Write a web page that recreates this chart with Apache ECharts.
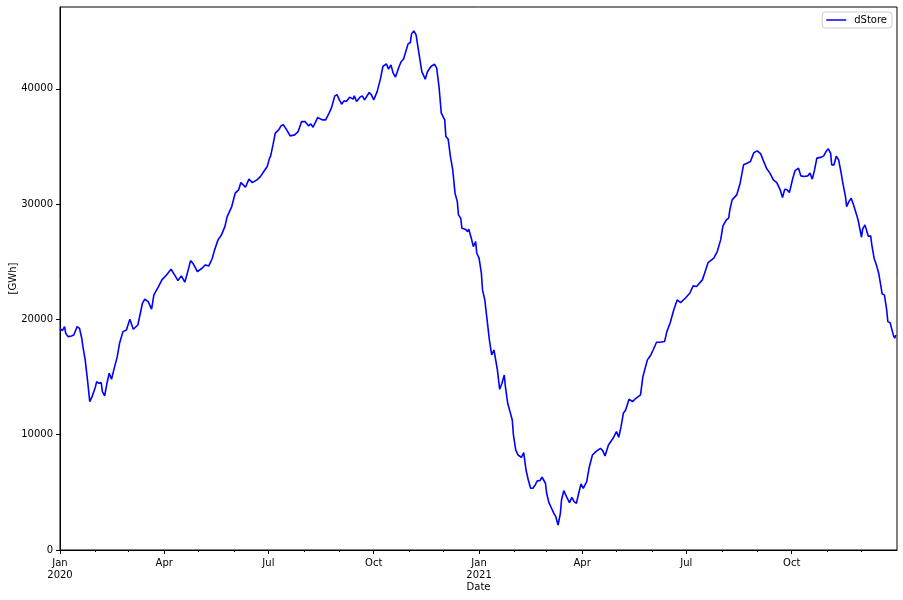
<!DOCTYPE html>
<html>
<head>
<meta charset="utf-8">
<script src="https://cdn.jsdelivr.net/npm/echarts@6/dist/echarts.min.js"></script>
<style>
html,body{margin:0;padding:0;background:#fff;}
#c{width:903px;height:600px;}
</style>
</head>
<body>
<div id="c"></div>
<script>
const seriesName = 'dStore';
const dates2020 = ['2020-01-01','2020-01-03','2020-01-05','2020-01-06','2020-01-08','2020-01-11','2020-01-13','2020-01-16','2020-01-18','2020-01-20','2020-01-21','2020-01-23','2020-01-25','2020-01-27','2020-01-29','2020-02-01','2020-02-02','2020-02-04','2020-02-06','2020-02-07','2020-02-09','2020-02-11','2020-02-13','2020-02-15','2020-02-17','2020-02-20','2020-02-22','2020-02-25','2020-02-28','2020-03-02','2020-03-05','2020-03-09','2020-03-13','2020-03-15','2020-03-18','2020-03-21','2020-03-23','2020-03-27','2020-03-30','2020-04-03','2020-04-07','2020-04-11','2020-04-13','2020-04-16','2020-04-19','2020-04-22','2020-04-24','2020-04-26','2020-04-30','2020-05-04','2020-05-07','2020-05-10','2020-05-13','2020-05-15','2020-05-18','2020-05-21','2020-05-24','2020-05-26','2020-05-30','2020-06-02','2020-06-05','2020-06-07','2020-06-09','2020-06-11','2020-06-14','2020-06-17','2020-06-21','2020-06-24','2020-06-27','2020-06-30','2020-07-02','2020-07-03','2020-07-05','2020-07-07','2020-07-10','2020-07-12','2020-07-14','2020-07-17','2020-07-20','2020-07-24','2020-07-27','2020-07-30','2020-08-02','2020-08-05','2020-08-07','2020-08-09','2020-08-13','2020-08-17','2020-08-20','2020-08-23','2020-08-25','2020-08-28','2020-08-30','2020-09-01','2020-09-03','2020-09-05','2020-09-07','2020-09-10','2020-09-13','2020-09-14','2020-09-16','2020-09-19','2020-09-21','2020-09-23','2020-09-27','2020-09-29','2020-10-01','2020-10-04','2020-10-07','2020-10-09','2020-10-12','2020-10-14','2020-10-16','2020-10-18','2020-10-20','2020-10-23','2020-10-25','2020-10-27','2020-10-29','2020-10-31','2020-11-02','2020-11-03','2020-11-05','2020-11-07','2020-11-09','2020-11-12','2020-11-15','2020-11-17','2020-11-20','2020-11-23','2020-11-25','2020-11-27','2020-11-29','2020-12-02','2020-12-03','2020-12-05','2020-12-07','2020-12-09','2020-12-11','2020-12-13','2020-12-14','2020-12-16','2020-12-17','2020-12-20','2020-12-22','2020-12-23','2020-12-25','2020-12-27','2020-12-29','2020-12-30'];
const values2020 = [19200,19030,19380,18800,18510,18570,18650,19380,19230,18370,17640,16490,14750,12870,13300,14170,14600,14460,14520,13740,13360,14460,15330,14810,15620,16770,17930,18940,19090,20020,19150,19520,21400,21750,21550,20890,22130,22850,23430,23860,24350,23710,23370,23780,23230,24300,25100,24880,24150,24440,24730,24640,25310,26030,26900,27330,28050,28920,29790,30950,31240,31870,31670,31470,32170,31870,32100,32390,32830,33260,33990,34190,35140,36160,36440,36790,36880,36440,35920,36010,36300,37160,37160,36790,36960,36670,37510,37310,37310,37890,38330,39390,39480,39040,38670,38960,38900,39280,39110,39390,38900,39280,39390,39040,39680,39480,39040,39760,40930,41940,42170,41710,42080,41360,41020,41900,42370,42570,43240,43900,44020,44770,45030,44690,43390,41500,40840,41500,41940,42140,41800,40200,37890,37310,35860,35640,34130,32970,30950,30220,29070,28780,27910,27830,27620,27830,27130,26320,26750,25740];
const dates2021 = ['2021-01-01','2021-01-03','2021-01-04','2021-01-06','2021-01-08','2021-01-10','2021-01-12','2021-01-14','2021-01-15','2021-01-17','2021-01-19','2021-01-21','2021-01-23','2021-01-24','2021-01-26','2021-01-28','2021-01-30','2021-01-31','2021-02-02','2021-02-04','2021-02-07','2021-02-09','2021-02-11','2021-02-13','2021-02-15','2021-02-17','2021-02-19','2021-02-21','2021-02-23','2021-02-25','2021-02-28','2021-03-01','2021-03-03','2021-03-06','2021-03-07','2021-03-09','2021-03-11','2021-03-13','2021-03-14','2021-03-16','2021-03-19','2021-03-21','2021-03-23','2021-03-25','2021-03-27','2021-03-29','2021-03-31','2021-04-02','2021-04-05','2021-04-07','2021-04-10','2021-04-13','2021-04-17','2021-04-19','2021-04-21','2021-04-24','2021-04-28','2021-05-01','2021-05-03','2021-05-05','2021-05-07','2021-05-09','2021-05-12','2021-05-15','2021-05-18','2021-05-22','2021-05-24','2021-05-28','2021-05-31','2021-06-02','2021-06-05','2021-06-08','2021-06-12','2021-06-14','2021-06-17','2021-06-20','2021-06-23','2021-06-26','2021-06-30','2021-07-04','2021-07-07','2021-07-10','2021-07-15','2021-07-17','2021-07-20','2021-07-25','2021-07-28','2021-07-31','2021-08-02','2021-08-05','2021-08-07','2021-08-08','2021-08-10','2021-08-14','2021-08-17','2021-08-20','2021-08-23','2021-08-26','2021-08-29','2021-09-01','2021-09-04','2021-09-06','2021-09-09','2021-09-12','2021-09-15','2021-09-18','2021-09-21','2021-09-23','2021-09-25','2021-09-27','2021-09-29','2021-10-02','2021-10-04','2021-10-07','2021-10-09','2021-10-12','2021-10-15','2021-10-17','2021-10-19','2021-10-21','2021-10-23','2021-10-27','2021-10-29','2021-10-31','2021-11-02','2021-11-04','2021-11-05','2021-11-07','2021-11-09','2021-11-11','2021-11-13','2021-11-15','2021-11-17','2021-11-18','2021-11-20','2021-11-22','2021-11-24','2021-11-27','2021-11-28','2021-12-01','2021-12-02','2021-12-04','2021-12-07','2021-12-09','2021-12-10','2021-12-12','2021-12-14','2021-12-16','2021-12-18','2021-12-19','2021-12-21','2021-12-23','2021-12-24','2021-12-26','2021-12-28','2021-12-29','2021-12-30','2021-12-31'];
const values2021 = [25310,24010,22560,21690,19960,18220,16920,17350,17500,15620,13940,14460,15180,14170,12730,12000,11280,9980,8680,8240,8040,8440,6940,6070,5350,5350,5640,6010,6010,6310,5790,4920,4110,3470,3240,2890,2170,3180,4340,5150,4490,4110,4570,4190,4050,4920,5730,5350,5930,7090,8240,8530,8820,8620,8160,9110,9690,10270,9780,10700,11860,12150,13080,12870,13160,13450,15000,16490,16920,17350,18020,18020,18080,18940,19740,20820,21690,21460,21840,22270,22910,22850,23430,24010,24930,25310,25890,26900,28110,28630,28780,29500,30370,30800,31820,33410,33550,33700,34470,34620,34360,33840,33120,32690,32110,31870,31240,30570,31300,31240,31000,32250,32910,33120,32450,32390,32450,32690,32170,32970,33990,34080,34190,34560,34800,34420,33410,33410,34150,33840,32830,31670,30660,29790,30220,30510,29940,28980,28630,27130,27830,28200,27190,27250,26470,25310,24730,24010,22850,22210,22130,20820,19810,19720,18940,18570,18370,18650];
const majorTickDates = ['2020-01-01','2020-04-01','2020-07-01','2020-10-01','2021-01-01','2021-04-01','2021-07-01','2021-10-01'];
const majorTickLabels = ['Jan\n2020','Apr','Jul','Oct','Jan\n2021','Apr','Jul','Oct'];
const minorTickDates = ['2020-02-01','2020-03-01','2020-05-01','2020-06-01','2020-08-01','2020-09-01','2020-11-01','2020-12-01','2021-02-01','2021-03-01','2021-05-01','2021-06-01','2021-08-01','2021-09-01','2021-11-01','2021-12-01'];
const yTicks = [0,10000,20000,30000,40000];
const xStart = '2020-01-01', xEnd = '2022-01-01';
const yMin = 0, yMax = 47100;

function ts(s){ const p = s.split('-').map(Number); return Date.UTC(p[0], p[1]-1, p[2]); }

const dates = dates2020.concat(dates2021);
const values = values2020.concat(values2021);
const data = dates.map((d,i)=>[ts(d), values[i]]);
const labelMap = {};
majorTickDates.forEach((d,i)=>{ labelMap[ts(d)] = majorTickLabels[i]; });

const font = 'DejaVu Sans';
const chart = echarts.init(document.getElementById('c'), null, {renderer:'canvas'});
chart.setOption({
  animation: false,
  backgroundColor: '#fff',
  textStyle: {fontFamily: font},
  grid: {left: 60, right: 6, top: 7, bottom: 50, containLabel: false, outerBoundsMode: 'none',
         show: true, borderColor: '#000', borderWidth: 1, backgroundColor: 'transparent'},
  legend: {
    data: [seriesName], right: 11, top: 12,
    icon: 'rect', itemWidth: 20, itemHeight: 1.5, itemGap: 10,
    padding: [3, 5, 3, 4], borderColor: '#ccc', borderWidth: 1, borderRadius: 3,
    textStyle: {fontFamily: font, fontSize: 10, color: '#000', padding: [0,0,0,3]},
    backgroundColor: '#fff'
  },
  xAxis: [{
    type: 'value', min: ts(xStart), max: ts(xEnd), position: 'bottom',
    name: 'Date', nameLocation: 'middle', nameGap: 37, nameMoveOverlap: false,
    nameTextStyle: {fontFamily: font, fontSize: 10, color: '#000', verticalAlign: 'middle'},
    axisLine: {show: true, onZero: false, lineStyle: {color: '#000', width: 1}},
    axisTick: {show: true, length: 4, lineStyle: {color: '#000'}, customValues: majorTickDates.map(ts)},
    axisLabel: {show: true, margin: 7, fontFamily: font, fontSize: 10, color: '#000', lineHeight: 12,
      customValues: majorTickDates.map(ts), hideOverlap: false,
      formatter: v => labelMap[v] !== undefined ? labelMap[v] : ''},
    splitLine: {show: false}
  },{
    type: 'value', min: ts(xStart), max: ts(xEnd), position: 'bottom', gridIndex: 0,
    axisLine: {show: false, onZero: false},
    axisTick: {show: true, length: 2, lineStyle: {color: '#000'}, customValues: minorTickDates.map(ts)},
    axisLabel: {show: false},
    splitLine: {show: false}
  }],
  yAxis: {
    type: 'value', min: yMin, max: yMax,
    name: '[GWh]', nameLocation: 'middle', nameGap: 47, nameRotate: 90, nameMoveOverlap: false,
    nameTextStyle: {fontFamily: font, fontSize: 10, color: '#000', verticalAlign: 'middle'},
    axisLine: {show: true, lineStyle: {color: '#000', width: 1}},
    axisTick: {show: true, length: 4, lineStyle: {color: '#000'}, customValues: yTicks},
    axisLabel: {margin: 7, fontFamily: font, fontSize: 10, color: '#000', customValues: yTicks,
      formatter: v => String(v)},
    splitLine: {show: false}
  },
  series: [{
    name: seriesName, type: 'line', xAxisIndex: 0, data: data,
    showSymbol: false, symbol: 'none',
    lineStyle: {color: '#0000ff', width: 1.6}, itemStyle: {color: '#0000ff'}
  }]
});
</script>
</body>
</html>
